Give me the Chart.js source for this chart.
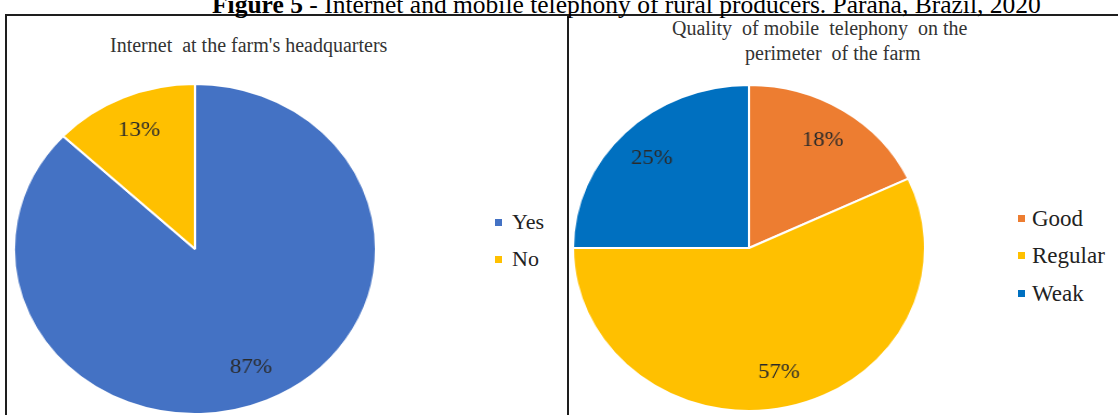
<!DOCTYPE html>
<html lang="en">
<head>
<meta charset="UTF-8">
<title>Figure 5</title>
<script src="https://cdn.jsdelivr.net/npm/chart.js"></script>
<style>
  html, body { margin: 0; padding: 0; background: #fff; }
  body { width: 1118px; height: 415px; position: relative; overflow: hidden;
         font-family: 'Liberation Serif', 'Times New Roman', serif; }
  .line { position: absolute; background: #1e1e1e; }
  .txt { position: absolute; white-space: pre; line-height: 1; color: #333;
         font-family: 'Liberation Serif', serif; }
  .pie { position: absolute; transform-origin: 50% 50%; }
  .leg { position: absolute; display: flex; align-items: center; line-height: 1; color: #222;
         white-space: pre; font-family: 'Liberation Serif', serif; }
  .leg i { display: inline-block; width: 7px; height: 7px; }
</style>
</head>
<body>
  <div class="line" style="left:5px; top:14px; width:1113px; height:2px;"></div>
  <div class="line" style="left:5px; top:14px; width:2px; height:401px;"></div>
  <div class="line" style="left:567px; top:14px; width:2px; height:401px;"></div>

  <div class="txt" id="figTitle" style="left:212px; top:-8px; font-size:25.5px; color:#000;"><b>Figure 5</b> - Internet and mobile telephony of rural producers. Paraná, Brazil, 2020</div>

  <div class="txt" style="left:110px; top:35px; font-size:20px;">Internet  at the farm's headquarters</div>
  <div class="txt" style="left:672px; top:18px; font-size:20px;">Quality  of mobile  telephony  on the</div>
  <div class="txt" style="left:745px; top:43px; font-size:20px;">perimeter  of the farm</div>

  <canvas id="pieLeft" class="pie" width="332" height="332" style="left:29px; top:83px; transform:scaleX(1.097);"></canvas>
  <canvas id="pieRight" class="pie" width="328" height="328" style="left:585px; top:84px; transform:scaleX(1.08);"></canvas>

  <div id="legLeft"></div>
  <div id="legRight"></div>

<script>
// data
const internetLabels = ['Yes', 'No'];
const internetValues = [87, 13];
const internetColors = ['#4472C4', '#FFC000'];

const mobileLabels = ['Good', 'Regular', 'Weak'];
const mobileValues = [18, 57, 25];
const mobileColors = ['#ED7D31', '#FFC000', '#0070C0'];

// percentage labels inside the slices
const pctLabels = {
  id: 'pctLabels',
  afterDatasetsDraw(chart, args, opts) {
    const ctx = chart.ctx;
    const meta = chart.getDatasetMeta(0);
    const vals = chart.data.datasets[0].data;
    const total = vals.reduce((a, b) => a + b, 0);
    ctx.save();
    ctx.font = opts.size + "px 'Liberation Serif'";
    ctx.fillStyle = opts.color;
    ctx.textAlign = 'center';
    ctx.textBaseline = 'middle';
    meta.data.forEach((arc, i) => {
      const p = arc.getProps(['x', 'y', 'startAngle', 'endAngle', 'outerRadius'], true);
      const mid = (p.startAngle + p.endAngle) / 2;
      const r = p.outerRadius * opts.dist;
      const txt = Math.round(vals[i] / total * 100) + '%';
      ctx.fillText(txt, p.x + Math.cos(mid) * r, p.y + Math.sin(mid) * r);
    });
    ctx.restore();
  }
};

function makePie(id, labels, values, colors) {
  return new Chart(document.getElementById(id), {
    type: 'pie',
    data: {
      labels: labels,
      datasets: [{
        data: values,
        backgroundColor: colors,
        borderColor: '#ffffff',
        borderWidth: 2
      }]
    },
    options: {
      responsive: false,
      animation: false,
      plugins: {
        legend: { display: false },
        tooltip: { enabled: false },
        pctLabels: { size: 21, color: '#2a2a2a', dist: 0.78 }
      }
    },
    plugins: [pctLabels]
  });
}

makePie('pieLeft', internetLabels, internetValues, internetColors);
makePie('pieRight', mobileLabels, mobileValues, mobileColors);

// legends
function makeLegend(id, labels, colors, left, firstY, step, fs, gap) {
  const box = document.getElementById(id);
  labels.forEach((lab, i) => {
    const d = document.createElement('div');
    d.className = 'leg';
    d.style.left = left + 'px';
    d.style.top = (firstY + i * step - fs / 2) + 'px';
    d.style.fontSize = fs + 'px';
    d.style.height = fs + 'px';
    const sq = document.createElement('i');
    sq.style.background = colors[i];
    sq.style.marginRight = gap + 'px';
    d.appendChild(sq);
    d.appendChild(document.createTextNode(lab));
    box.appendChild(d);
  });
}
makeLegend('legLeft', internetLabels, internetColors, 495, 222, 37, 22, 10);
makeLegend('legRight', mobileLabels, mobileColors, 1018, 218, 37.5, 23, 7);
</script>
</body>
</html>
